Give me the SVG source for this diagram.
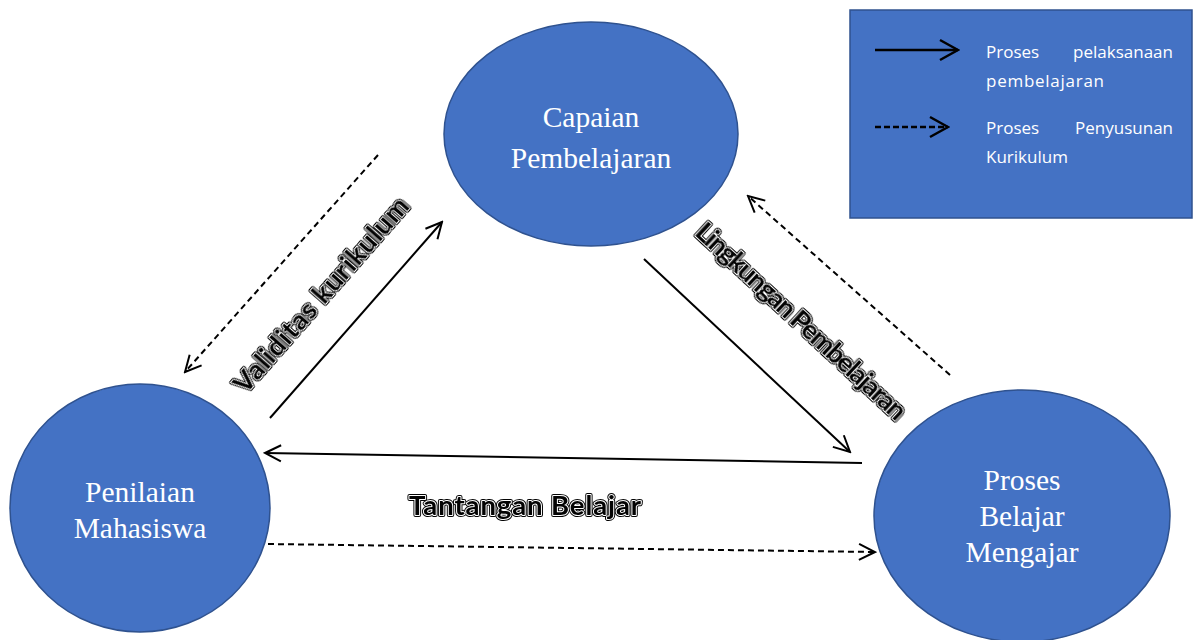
<svg xmlns="http://www.w3.org/2000/svg" width="1194" height="640" viewBox="0 0 1194 640">
<defs>
<marker id="ah" viewBox="0 0 20 20" refX="18" refY="10" markerWidth="20" markerHeight="20" markerUnits="userSpaceOnUse" orient="auto">
<path d="M2,2 L18,10 L2,18" fill="none" stroke="#000" stroke-width="2"/>
</marker>
<marker id="ahs" viewBox="0 0 24 24" refX="22" refY="12" markerWidth="24" markerHeight="24" markerUnits="userSpaceOnUse" orient="auto">
<path d="M4,2 L22,12 L4,22" fill="none" stroke="#000" stroke-width="2.5"/>
</marker>
<style>
.node{fill:#4472C4;stroke:#2F528F;stroke-width:1.5}
.nt{font-family:"Liberation Serif",serif;font-size:29.5px;fill:#fff;text-anchor:middle}
.solid{stroke:#000;stroke-width:2;fill:none}
.dash{stroke:#000;stroke-width:2;fill:none;stroke-dasharray:6,4}
.lb{font-family:Lato,"Open Sans","Liberation Sans",sans-serif;font-weight:bold;font-size:27.5px;text-anchor:middle}
.l1{fill:#000;stroke:#000;stroke-width:4;stroke-linejoin:round}
.l2{fill:#fff;stroke:#fff;stroke-width:2;stroke-linejoin:round}
.l3{fill:#000}
.lg{font-family:"Open Sans","Liberation Sans",sans-serif;font-size:17px;fill:#fff}
</style>
</defs>
<rect width="1194" height="640" fill="#fff"/>
<g id="legend">
<rect x="850" y="10" width="342" height="208" class="node"/>
<line x1="875" y1="50" x2="958" y2="50" stroke="#000" stroke-width="2.5" marker-end="url(#ahs)"/>
<line x1="875" y1="127" x2="948" y2="127" stroke="#000" stroke-width="2.5" stroke-dasharray="6,3" marker-end="url(#ahs)"/>
<text class="lg" x="986" y="58">Proses</text>
<text class="lg" x="1173" y="58" text-anchor="end">pelaksanaan</text>
<text class="lg" x="986" y="87" textLength="118">pembelajaran</text>
<text class="lg" x="986" y="134">Proses</text>
<text class="lg" x="1173" y="134" text-anchor="end">Penyusunan</text>
<text class="lg" x="986" y="163">Kurikulum</text>
</g>
<g id="capaian">
<ellipse cx="591" cy="134" rx="147" ry="112" class="node"/>
<text class="nt" x="591" y="127">Capaian</text>
<text class="nt" x="591" y="168">Pembelajaran</text>
</g>
<g id="penilaian">
<ellipse cx="140" cy="508" rx="130" ry="124" class="node"/>
<text class="nt" x="140" y="502">Penilaian</text>
<text class="nt" x="140" y="538">Mahasiswa</text>
</g>
<g id="proses">
<ellipse cx="1022" cy="516" rx="148" ry="126" class="node"/>
<text class="nt" x="1022" y="490">Proses</text>
<text class="nt" x="1022" y="526">Belajar</text>
<text class="nt" x="1022" y="562">Mengajar</text>
</g>
<g id="connectors">
<line x1="270" y1="418" x2="442" y2="222" class="solid" marker-end="url(#ah)"/>
<line x1="378" y1="155" x2="185" y2="372" class="dash" marker-end="url(#ah)"/>
<line x1="644" y1="259" x2="850" y2="452" class="solid" marker-end="url(#ah)"/>
<line x1="950" y1="375" x2="748" y2="196" class="dash" marker-end="url(#ah)"/>
<line x1="862" y1="463" x2="265" y2="453" class="solid" stroke-width="2.5" marker-end="url(#ah)"/>
<line x1="268" y1="544" x2="875" y2="552" class="dash" stroke-width="2.5" marker-end="url(#ah)"/>
</g>
<g id="labels" class="lb" opacity="0.99">
<g transform="translate(328,301) rotate(-48.7)">
<text class="l1" x="0" y="0" textLength="250">Validitas kurikulum</text>
<text class="l2" x="0" y="0" textLength="250">Validitas kurikulum</text>
<text class="l3" x="0" y="0" textLength="250">Validitas kurikulum</text>
</g>
<g transform="translate(795,328) rotate(42.8)">
<text class="l1" x="0" y="0" textLength="276">Lingkungan Pembelajaran</text>
<text class="l2" x="0" y="0" textLength="276">Lingkungan Pembelajaran</text>
<text class="l3" x="0" y="0" textLength="276">Lingkungan Pembelajaran</text>
</g>
<text class="l1" x="525" y="515" textLength="232">Tantangan Belajar</text>
<text class="l2" x="525" y="515" textLength="232">Tantangan Belajar</text>
<text class="l3" x="525" y="515" textLength="232">Tantangan Belajar</text>
</g>
</svg>
